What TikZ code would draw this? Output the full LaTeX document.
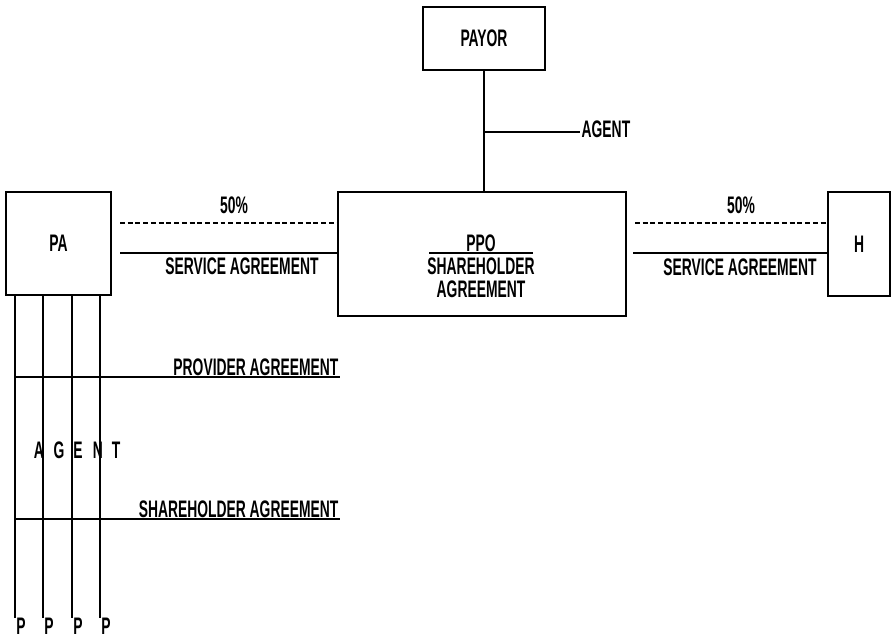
\documentclass[tikz,border=0pt]{standalone}
\usepackage{fontspec}
\newfontfamily\docfont[FakeStretch=0.58]{Liberation Sans}
\usetikzlibrary{positioning}
\tikzset{
	box/.style={draw, line width=1.1pt, inner sep=0pt},
	lbl/.style={font=\docfont\bfseries\fontsize{17}{16}\selectfont, inner sep=1pt},
	link/.style={line width=1.1pt},
	share/.style={line width=1.1pt, dash pattern=on 3.5pt off 2pt},
}

\begin{document}
\begin{tikzpicture}[x=0.025cm, y=-0.025cm]
			\useasboundingbox (0,0) rectangle (892,643);

			% Boxes
			\node[box, lbl, minimum width=3.05cm, minimum height=1.575cm] (payor) at (484,38.5) {PAYOR};
			\node[box, minimum width=7.2cm, minimum height=3.1cm] (ppo) at (482,254) {};
			\node[box, lbl, minimum width=2.625cm, minimum height=2.575cm] (pa) at (58.5,243.5) {PA};
			\node[box, lbl, minimum width=1.55cm, minimum height=2.6cm] (h) at (859,244) {H};

			% PPO text
			\node[lbl] (ppo-name) at (481,243) {PPO};
			\draw[link] (429,253) -- (533,253);
			\node[lbl, align=center] (ppo-terms) at (481,278) {SHAREHOLDER\\AGREEMENT};

			% Payor -- PPO, agent branch
			\draw[link] (payor.south -| 484,0) -- (ppo.north -| 484,0);
			\node[lbl, anchor=west] (agent) at (580,129) {AGENT};
			\coordinate (tap) at (484,132);
			\draw[link] (tap) -- (agent.west |- tap);

			% PA -- PPO
			\coordinate (pa-share) at (120,223);
			\coordinate (pa-serv) at (120,253);
			\draw[share] (pa-share) -- (ppo.west |- pa-share);
			\draw[link] (pa-serv) -- (ppo.west |- pa-serv);
			\node[lbl] (pa-pct) at (234,205) {50\%};
			\node[lbl] (pa-sa) at (242,266) {SERVICE AGREEMENT};

			% PPO -- H
			\coordinate (h-share) at (635,223);
			\coordinate (h-serv) at (633,253);
			\draw[share] (h-share) -- (h.west |- h-share);
			\draw[link] (h-serv) -- (h.west |- h-serv);
			\node[lbl] (h-pct) at (741,205) {50\%};
			\node[lbl] (h-sa) at (740,267) {SERVICE AGREEMENT};

			% Providers below PA
			\foreach \x [count=\i] in {15,43,72,100} {
				\coordinate (top\i) at (\x,295);
				\node[lbl, anchor=north west, inner sep=0pt] (p\i) at (\x+1,618) {P};
				\draw[link] (top\i) -- (p\i.north west -| top\i);
			}

			\node[lbl, anchor=south east] (prov) at (340,377) {PROVIDER AGREEMENT};
			\coordinate (prov-start) at (15,377);
			\draw[link] (prov-start) -- (prov.south east);

			\node[lbl, anchor=south east] (share) at (340,519) {SHAREHOLDER AGREEMENT};
			\coordinate (share-start) at (15,519);
			\draw[link] (share-start) -- (share.south east);

			\foreach \x/\l in {39/A, 59/G, 78/E, 98/N, 116/T}
				\node[lbl, inner sep=0pt] (ag-\l) at (\x,450) {\l};

		\end{tikzpicture}
\end{document}
